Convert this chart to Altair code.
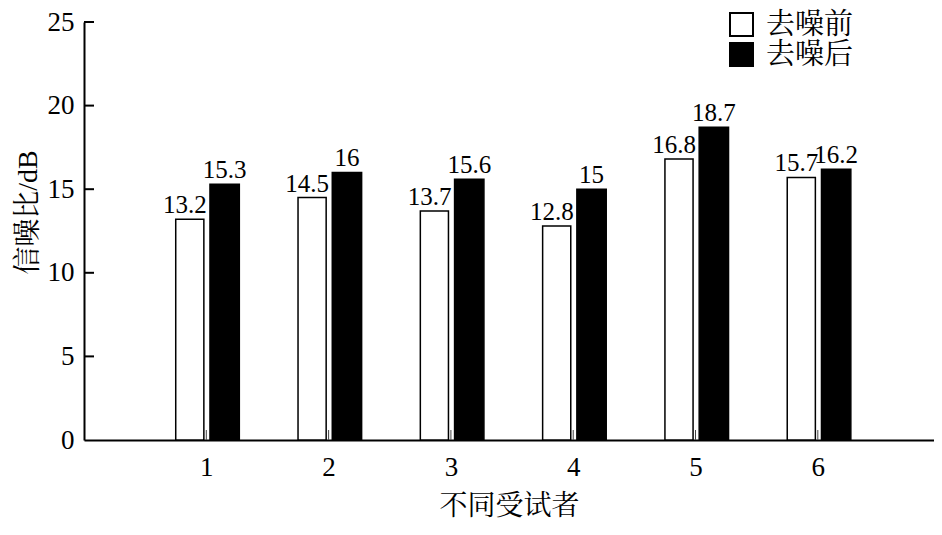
import altair as alt
import pandas as pd

subjects = [1, 2, 3, 4, 5, 6]
before = [13.2, 14.5, 13.7, 12.8, 16.8, 15.7]
after = [15.3, 16, 15.6, 15, 18.7, 16.2]
series_names = ["去噪前", "去噪后"]
y_ticks = [5, 10, 15, 20, 25]

rows = []
for s, b, a in zip(subjects, before, after):
    rows.append({"subject": s, "series": series_names[0], "value": b})
    rows.append({"subject": s, "series": series_names[1], "value": a})
df = pd.DataFrame(rows)
tick_df = pd.DataFrame({"t": y_ticks})
sub_df = pd.DataFrame({"subject": subjects})

FONT = "Liberation Serif, Noto Serif CJK SC, Noto Sans CJK SC"

xscale = alt.Scale(domain=[0, 6.95], nice=False, zero=False)
yscale = alt.Scale(domain=[0, 25], nice=False)
xaxis = alt.Axis(values=subjects, format="d", ticks=False, grid=False,
                 domainColor="black", domainWidth=2, labelFontSize=27,
                 labelColor="black", labelPadding=14, labelFont=FONT,
                 titleFont=FONT, titleFontSize=28, titleFontWeight="normal",
                 titleColor="black", titlePadding=12)
yaxis = alt.Axis(values=[0, 5, 10, 15, 20, 25], ticks=False, grid=False,
                 domainColor="black", domainWidth=2, labelFontSize=27,
                 labelColor="black", labelPadding=10, labelFont=FONT,
                 titleFont=FONT, titleFontSize=28, titleFontWeight="normal",
                 titleColor="black", titlePadding=5, titleY=190)

def X(field):
    return alt.X(field, type="quantitative", scale=xscale, axis=xaxis, title="不同受试者")

def Y(field):
    return alt.Y(field, type="quantitative", scale=yscale, axis=yaxis, title="信噪比/dB")

base = alt.Chart(df).transform_calculate(
    x0="datum.series == '去噪前' ? datum.subject - 0.25 : datum.subject + 0.03",
    x1="datum.series == '去噪前' ? datum.subject - 0.02 : datum.subject + 0.27",
    xc="datum.series == '去噪前' ? datum.subject - 0.175 : datum.subject + 0.15",
)

bars = base.mark_bar(stroke="black", strokeWidth=1.5).encode(
    x=X("x0"),
    x2="x1:Q",
    y=Y("value"),
    y2=alt.datum(0),
    color=alt.Color("series:N",
                    scale=alt.Scale(domain=series_names, range=["white", "black"]),
                    legend=alt.Legend(title=None, orient="none", legendX=643, legendY=-12,
                                      symbolType="square", symbolSize=529,
                                      symbolStrokeColor="black", symbolStrokeWidth=2,
                                      labelFontSize=29, labelFont=FONT, labelColor="black",
                                      labelOffset=10, rowPadding=-8, padding=0)),
)

labels = base.mark_text(baseline="alphabetic", dy=-6, fontSize=25, font=FONT,
                        color="black").encode(
    x=X("xc"),
    y=Y("value"),
    text=alt.Text("value:Q"),
)

yticks = alt.Chart(tick_df).mark_rule(color="black", strokeWidth=2).encode(
    y=Y("t"),
    x=alt.value(0),
    x2=alt.value(10),
)

xticks = alt.Chart(sub_df).mark_rule(color="#444", strokeWidth=1).encode(
    x=X("subject"),
    y=alt.value(408),
    y2=alt.value(418),
)

chart = alt.layer(bars, labels, yticks, xticks).properties(
    width=850, height=418,
    padding={"left": 76, "top": 14, "right": 0, "bottom": 87},
    autosize=alt.AutoSizeParams(type="none"),
    background="white",
).configure_view(stroke=None)

chart.save("out.html", embed_options={"renderer": "svg", "actions": False})
